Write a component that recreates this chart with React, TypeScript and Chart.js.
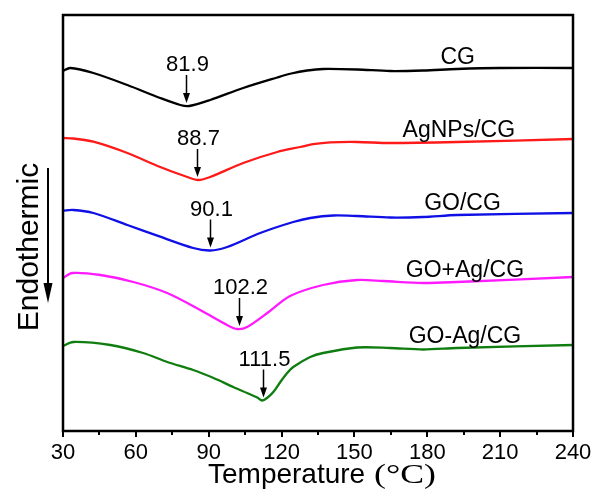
import React, { useEffect, useRef } from "react";
import { Chart, registerables } from "chart.js";

Chart.register(...registerables);

// ---- data (x: temperature °C, y: heat flow, arbitrary units, offset per curve) ----
const seriesNames = ["CG", "AgNPs/CG", "GO/CG", "GO+Ag/CG", "GO-Ag/CG"];
const seriesColors = ["#000000", "#ff1a1a", "#1010e6", "#ff1aff", "#0f7d0f"];

const tCG = [30, 33.0, 42.5, 56.5, 70.0, 78.3, 82.0, 90.6, 104.2, 118.2, 124.0, 130.5, 137.1, 151.1, 164.7, 178.3, 192.2, 209.9, 240];
const yCG = [360, 363, 358, 346, 333, 326, 325, 331, 343, 353.5, 357.5, 360.5, 362, 361.5, 360, 360.5, 362, 363, 363];

const tAg = [30, 34.2, 42.5, 56.5, 70.0, 81.2, 85.7, 90.6, 104.2, 118.2, 127.7, 133.0, 140.0, 151.1, 164.6, 192.2, 240];
const yAg = [293, 292.5, 289.3, 278, 264, 254, 251, 254, 268, 279, 284, 286.8, 288.6, 289, 288, 289, 292];

const tGO = [30, 34.2, 42.5, 56.5, 70.0, 83.6, 90.6, 97.6, 111.2, 124.8, 131.8, 141.3, 151.1, 164.7, 178.3, 192.2, 240];
const yGO = [220.3, 221, 218, 206, 194.3, 183, 180.5, 184, 198, 209, 213, 215.5, 215, 213.5, 214, 216, 218];

const tGOpAg = [30, 33.8, 45.4, 59.0, 72.9, 86.5, 97.6, 101.7, 105.8, 114.1, 123.5, 137.1, 151.1, 161.8, 178.3, 192.2, 240];
const yGOpAg = [153, 158, 156, 149, 138, 121, 106, 102, 104, 118, 135, 146, 151, 150, 148, 149, 154];

const tGOAg = [30, 34.2, 49.5, 63.0, 72.9, 83.6, 92.0, 100.1, 105.8, 110.0, 112.0, 114.0, 116.6, 119.5, 122.3, 124.8, 131.8, 137.1, 151.1, 164.7, 178.3, 192.2, 240];
const yGOAg = [85, 89, 86, 78, 69, 61, 53, 44, 38, 33.5, 30.5, 33, 39, 49, 58, 64, 74, 78, 83.5, 83, 81.5, 83, 86];

const seriesT = [tCG, tAg, tGO, tGOpAg, tGOAg];
const seriesY = [yCG, yAg, yGO, yGOpAg, yGOAg];

// peak annotations
const peakLabels = ["81.9", "88.7", "90.1", "102.2", "111.5"];
const peakArrowT = [80.7, 85.2, 90.6, 102.6, 112.3];

// series label anchor (temperature at label centre)
const labelT = [192.5, 193, 194.5, 195.5, 195.5];

// axis
const xMajorTicks = [30, 60, 90, 120, 150, 180, 210, 240];
const xMinorTicks = [45, 75, 105, 135, 165, 195, 225];
const xTitleMain = "Temperature ";
const xTitleUnit = "(°C)";
const yTitle = "Endothermic";

const SANS = "'Liberation Sans', Arial, sans-serif";
const SERIF = "'Liberation Serif', 'Times New Roman', serif";

function interp(ts: number[], ys: number[], t: number): number {
  for (let i = 0; i < ts.length - 1; i++) {
    if (t >= ts[i] && t <= ts[i + 1]) {
      const f = (t - ts[i]) / (ts[i + 1] - ts[i]);
      return ys[i] + f * (ys[i + 1] - ys[i]);
    }
  }
  return ys[ys.length - 1];
}

const overlayPlugin = {
  id: "overlay",
  afterDatasetsDraw(chart: any) {
    const { ctx, chartArea: ca, scales } = chart;
    const x = scales.x;
    const y = scales.y;
    ctx.save();

    // frame
    ctx.strokeStyle = "#000";
    ctx.lineWidth = 2.5;
    ctx.strokeRect(ca.left, ca.top, ca.right - ca.left, ca.bottom - ca.top);

    // ticks (outward)
    ctx.lineWidth = 2;
    ctx.beginPath();
    xMajorTicks.forEach((t) => {
      const px = Math.round(x.getPixelForValue(t));
      ctx.moveTo(px, ca.bottom);
      ctx.lineTo(px, ca.bottom + 6);
    });
    xMinorTicks.forEach((t) => {
      const px = Math.round(x.getPixelForValue(t));
      ctx.moveTo(px, ca.bottom);
      ctx.lineTo(px, ca.bottom + 4);
    });
    ctx.stroke();

    // peak arrows + labels
    ctx.fillStyle = "#000";
    ctx.font = `22px ${SANS}`;
    ctx.textAlign = "center";
    ctx.textBaseline = "alphabetic";
    seriesY.forEach((ys, i) => {
      const minV = Math.min(...ys);
      const px = Math.round(x.getPixelForValue(peakArrowT[i])) + 0.5;
      const tip = y.getPixelForValue(minV) - 3;
      const top = tip - 28;
      ctx.lineWidth = 1.5;
      ctx.beginPath();
      ctx.moveTo(px, top);
      ctx.lineTo(px, tip - 8);
      ctx.stroke();
      ctx.beginPath();
      ctx.moveTo(px - 3.5, tip - 10);
      ctx.lineTo(px + 3.5, tip - 10);
      ctx.lineTo(px, tip);
      ctx.closePath();
      ctx.fill();
      ctx.fillText(peakLabels[i], px + 1, top - 4);
    });

    // series labels
    ctx.font = `23px ${SANS}`;
    seriesNames.forEach((name, i) => {
      const px = x.getPixelForValue(labelT[i]);
      const v = interp(seriesT[i], seriesY[i], labelT[i]);
      const py = y.getPixelForValue(v) - 5;
      ctx.fillText(name, px, py);
    });

    // x title
    ctx.textAlign = "left";
    ctx.font = `28px ${SANS}`;
    ctx.fillText(xTitleMain, 208, 483);
    const w = ctx.measureText(xTitleMain).width;
    ctx.font = `28px ${SERIF}`;
    const uw = ctx.measureText(xTitleUnit).width;
    ctx.save();
    ctx.translate(208 + w + 1, 483);
    ctx.scale(62 / uw, 1);
    ctx.fillText(xTitleUnit, 0, 0);
    ctx.restore();

    // y title (rotated)
    ctx.save();
    ctx.translate(38, 247);
    ctx.rotate(-Math.PI / 2);
    ctx.textAlign = "center";
    ctx.font = `30px ${SANS}`;
    ctx.fillText(yTitle, 0, 0);
    ctx.restore();

    // endothermic arrow
    ctx.lineWidth = 2;
    ctx.beginPath();
    ctx.moveTo(48, 168);
    ctx.lineTo(48, 285);
    ctx.stroke();
    ctx.beginPath();
    ctx.moveTo(43.5, 283);
    ctx.lineTo(52.5, 283);
    ctx.lineTo(48, 303);
    ctx.closePath();
    ctx.fill();

    ctx.restore();
  },
};

export default function App() {
  const canvasRef = useRef<HTMLCanvasElement | null>(null);

  useEffect(() => {
    const canvas = canvasRef.current;
    if (!canvas) return;
    const datasets = seriesNames.map((name, i) => ({
      label: name,
      data: seriesT[i].map((t, j) => ({ x: t, y: seriesY[i][j] })),
      borderColor: seriesColors[i],
      borderWidth: 2.3,
      pointRadius: 0,
      fill: false,
      tension: 0.3,
    }));
    const chart = new Chart(canvas, {
      type: "line",
      data: { datasets },
      options: {
        animation: false,
        responsive: false,
        devicePixelRatio: 1,
        layout: { padding: { left: 63, right: 22, top: 15, bottom: 0 } },
        plugins: { legend: { display: false }, tooltip: { enabled: false } },
        scales: {
          x: {
            type: "linear",
            min: 30,
            max: 240,
            border: { display: false },
            grid: { display: false, drawTicks: false },
            ticks: {
              stepSize: 30,
              padding: 9,
              color: "#000",
              autoSkip: false,
              maxRotation: 0,
              font: { family: SANS, size: 22 },
            },
            afterFit: (s: any) => {
              s.height = 65;
              s.paddingLeft = 0;
              s.paddingRight = 0;
            },
          },
          y: { display: false, min: 0, max: 416 },
        },
      },
      plugins: [overlayPlugin],
    });
    return () => chart.destroy();
  }, []);

  return (
    <div style={{ position: "absolute", left: 0, top: 0, width: 595, height: 496, background: "#fff" }}>
      <canvas ref={canvasRef} width={595} height={496} style={{ display: "block" }} />
    </div>
  );
}
